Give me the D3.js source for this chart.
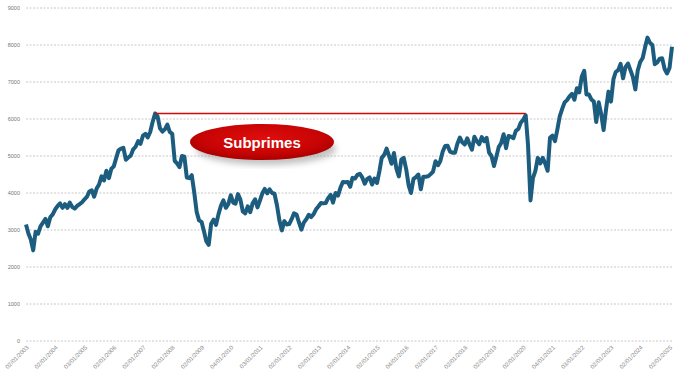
<!DOCTYPE html>
<html>
<head>
<meta charset="utf-8">
<script src="https://cdnjs.cloudflare.com/ajax/libs/d3/7.8.5/d3.min.js"></script>
<style>
  body { margin: 0; background: #fff; }
  #my_dataviz svg { display: block; }
</style>
</head>
<body>
<div id="my_dataviz"></div>
<script>
// index level at the 1st of each month, Jan 2003 -> Feb 2025
var values2003 = [3150, 2900, 2750, 2450, 2950, 2900, 3100, 3200, 3300, 3100, 3350, 3420]
var values2004 = [3560, 3650, 3720, 3600, 3700, 3600, 3740, 3620, 3580, 3650, 3700, 3750]
var values2005 = [3830, 3900, 4040, 4070, 3900, 4120, 4230, 4450, 4340, 4600, 4400, 4650]
var values2006 = [4720, 4950, 5150, 5200, 5220, 4900, 4960, 5010, 5180, 5250, 5400, 5330]
var values2007 = [5550, 5600, 5500, 5650, 5920, 6150, 6080, 5750, 5660, 5720, 5850, 5650]
var values2008 = [5600, 4870, 4800, 4700, 5000, 4980, 4420, 4400, 4480, 4030, 3490, 3260]
var values2009 = [3220, 2960, 2700, 2600, 3170, 3280, 3140, 3430, 3660, 3800, 3600, 3700]
var values2010 = [3940, 3740, 3710, 3970, 3820, 3500, 3450, 3640, 3480, 3720, 3830, 3610]
var values2011 = [3800, 4000, 4110, 3990, 4100, 4000, 3980, 3670, 3250, 2990, 3240, 3150]
var values2012 = [3160, 3300, 3450, 3420, 3210, 3010, 3200, 3290, 3410, 3350, 3430, 3560]
var values2013 = [3640, 3730, 3720, 3730, 3860, 3950, 3740, 4000, 3930, 4140, 4300, 4290]
var values2014 = [4300, 4170, 4410, 4390, 4490, 4520, 4420, 4250, 4380, 4420, 4230, 4390]
var values2015 = [4270, 4600, 4950, 5030, 5200, 5000, 4790, 5080, 4650, 4450, 4900, 4950]
var values2016 = [4640, 4200, 4000, 4380, 4430, 4500, 4100, 4440, 4440, 4450, 4510, 4580]
var values2017 = [4860, 4750, 4860, 5120, 5270, 5280, 5120, 5090, 5090, 5330, 5500, 5370]
var values2018 = [5310, 5480, 5320, 5170, 5520, 5400, 5320, 5510, 5400, 5490, 5090, 5000]
var values2019 = [4730, 4990, 5240, 5350, 5590, 5210, 5540, 5520, 5480, 5680, 5730, 5900]
var values2020 = [5980, 6100, 5300, 3800, 4400, 4600, 4950, 4800, 4950, 4800, 4600, 5500]
var values2021 = [5550, 5400, 5700, 6070, 6270, 6450, 6510, 6610, 6680, 6520, 6830, 6720]
var values2022 = [7150, 7300, 6660, 6660, 6530, 6470, 5920, 6450, 6130, 5700, 6270, 6740]
var values2023 = [6470, 7080, 7270, 7320, 7490, 7100, 7400, 7500, 7320, 7140, 6800, 7310]
var values2024 = [7540, 7650, 7930, 8200, 8060, 8000, 7480, 7530, 7630, 7640, 7350, 7230]
var values2025 = [7380, 7950]

var xLabels = ["02/01/2003", "02/01/2004", "03/01/2005", "02/01/2006", "02/01/2007", "02/01/2008",
  "02/01/2009", "04/01/2010", "03/01/2011", "02/01/2012", "02/01/2013", "02/01/2014",
  "02/01/2015", "04/01/2016", "02/01/2017", "02/01/2018", "02/01/2019", "02/01/2020",
  "04/01/2021", "03/01/2022", "02/01/2023", "02/01/2024", "02/01/2025"]
var yTicks = [0, 1000, 2000, 3000, 4000, 5000, 6000, 7000, 8000, 9000]

// previous high, reached again before the covid crash
var subprimeLevel = 6150
var subprimeStart = "2007-06-01"
var subprimeEnd = "2020-02-01"
var annotation = "Subprimes"

var width = 684
    height = 384
    margin = {top: 8, right: 12, bottom: 43, left: 26}

var svg = d3.select("#my_dataviz")
  .append("svg")
    .attr("width", width)
    .attr("height", height)

var allValues = [].concat(values2003, values2004, values2005, values2006, values2007, values2008,
  values2009, values2010, values2011, values2012, values2013, values2014, values2015, values2016,
  values2017, values2018, values2019, values2020, values2021, values2022, values2023, values2024, values2025)

// one point per month
var data = allValues.map(function(v, i) {
  return {date: new Date(2003, i, 1), value: v}
})

var parse = d3.timeParse("%Y-%m-%d")
var x = d3.scaleTime()
  .domain([new Date(2003, 0, 1), new Date(2025, 1, 1)])
  .range([margin.left, width - margin.right])

var y = d3.scaleLinear()
  .domain([0, 9000])
  .range([height - margin.bottom, margin.top])

// dashed grid + y labels
svg.append("g")
  .selectAll("line")
  .data(yTicks)
  .enter()
  .append("line")
    .attr("x1", margin.left)
    .attr("x2", width - margin.right)
    .attr("y1", function(d) { return y(d) })
    .attr("y2", function(d) { return y(d) })
    .attr("stroke", "#c8c8c8")
    .attr("stroke-width", 1)
    .attr("stroke-dasharray", "2,1.5")

svg.append("g")
  .selectAll("text")
  .data(yTicks)
  .enter()
  .append("text")
    .attr("x", 20)
    .attr("y", function(d) { return y(d) + 2 })
    .attr("text-anchor", "end")
    .style("font-family", "Liberation Sans, Arial, sans-serif")
    .style("font-size", "5.5px")
    .style("fill", "#777")
    .text(function(d) { return d })

// rotated date labels, one per year
svg.append("g")
  .selectAll("text")
  .data(xLabels)
  .enter()
  .append("text")
    .attr("transform", function(d, i) {
      return "translate(" + (x(new Date(2003 + i, 0, 1)) + 3) + "," + (height - margin.bottom + 7) + ") rotate(-45)"
    })
    .attr("text-anchor", "end")
    .style("font-family", "Liberation Sans, Arial, sans-serif")
    .style("font-size", "6px")
    .style("fill", "#888")
    .text(function(d) { return d })

// the index itself
var line = d3.line()
  .x(function(d) { return x(d.date) })
  .y(function(d) { return y(d.value) })

svg.append("path")
  .datum(data)
  .attr("d", line)
  .attr("fill", "none")
  .attr("stroke", "#1c5d7f")
  .attr("stroke-width", 4)
  .attr("stroke-linejoin", "round")

// red line between the two highs
svg.append("line")
  .attr("x1", x(parse(subprimeStart)))
  .attr("x2", x(parse(subprimeEnd)))
  .attr("y1", y(subprimeLevel))
  .attr("y2", y(subprimeLevel))
  .attr("stroke", "#d10a0a")
  .attr("stroke-width", 1.5)

// red bubble with a soft shadow
var defs = svg.append("defs")
var grad = defs.append("radialGradient")
  .attr("id", "bubble")
  .attr("cx", "50%").attr("cy", "40%").attr("r", "60%")
grad.append("stop").attr("offset", "0%").attr("stop-color", "#e00d0d")
grad.append("stop").attr("offset", "70%").attr("stop-color", "#c70404")
grad.append("stop").attr("offset", "100%").attr("stop-color", "#a80000")

defs.append("filter")
  .attr("id", "blur")
  .append("feGaussianBlur")
  .attr("stdDeviation", 3)

var cx = 262, cy = 142
svg.append("ellipse")
  .attr("cx", cx + 4).attr("cy", cy + 7)
  .attr("rx", 70).attr("ry", 16)
  .attr("fill", "#999")
  .attr("opacity", 0.6)
  .attr("filter", "url(#blur)")

svg.append("ellipse")
  .attr("cx", cx).attr("cy", cy)
  .attr("rx", 72).attr("ry", 18)
  .attr("fill", "url(#bubble)")

svg.append("text")
  .attr("x", cx)
  .attr("y", cy + 5.5)
  .attr("text-anchor", "middle")
  .style("font-family", "Liberation Sans, Arial, sans-serif")
  .style("font-size", "15px")
  .style("font-weight", "bold")
  .style("fill", "#fff")
  .text(annotation)
</script>
</body>
</html>
